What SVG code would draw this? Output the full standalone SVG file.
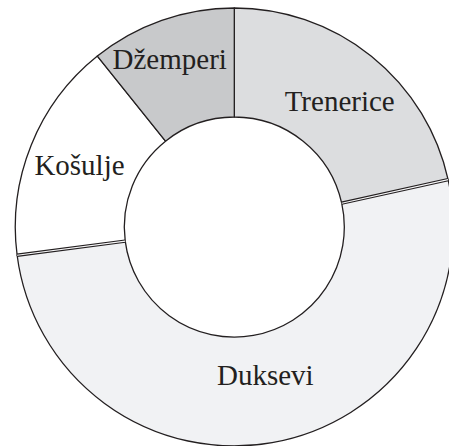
<svg xmlns="http://www.w3.org/2000/svg" width="449" height="446" viewBox="0 0 449 446">
<style>
.slice{stroke:#231f20;stroke-width:1.3;stroke-linejoin:round}
.lbl{font-family:"Liberation Serif","Times New Roman",serif;font-size:29px;fill:#231f20;text-anchor:middle}
.dbl{stroke:#231f20;stroke-width:3.4;fill:none}
.dblin{stroke:#f7f7f8;stroke-width:1.1;fill:none}
</style>
<rect width="449" height="446" fill="#ffffff"/>
<g id="trenerice">
<path class="slice" fill="#dcdddf" d="M 234.3 8 A 219 219 0 0 1 448.11 179.60 L 341.69 203.19 A 110 110 0 0 0 234.3 117 Z"/>
<text class="lbl" x="339.7" y="111">Trenerice</text>
</g>
<g id="duksevi">
<path class="slice" fill="#f1f2f4" d="M 448.11 179.60 A 219 219 0 1 1 17.12 255.21 L 125.22 241.17 A 110 110 0 1 0 341.69 203.19 Z"/>
<text class="lbl" x="265.3" y="385">Duksevi</text>
</g>
<g id="kosulje">
<path class="slice" fill="#ffffff" d="M 17.12 255.21 A 219 219 0 0 1 97.37 56.09 L 165.52 141.15 A 110 110 0 0 0 125.22 241.17 Z"/>
<text class="lbl" x="79.5" y="175">Košulje</text>
</g>
<g id="dzemperi">
<path class="slice" fill="#c8c9cb" d="M 97.37 56.09 A 219 219 0 0 1 234.3 8 L 234.3 117 A 110 110 0 0 0 165.52 141.15 Z"/>
<text class="lbl" x="169.7" y="69">Džemperi</text>
</g>
<g id="connectors">
<line class="dbl" x1="341.69" y1="203.19" x2="448.11" y2="179.60"/>
<line class="dblin" x1="341.69" y1="203.19" x2="448.11" y2="179.60"/>
<line class="dbl" x1="125.22" y1="241.17" x2="17.12" y2="255.21"/>
<line class="dblin" x1="125.22" y1="241.17" x2="17.12" y2="255.21"/>
</g>
</svg>
